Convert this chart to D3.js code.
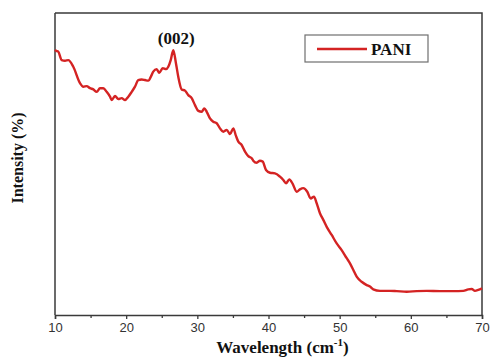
<!DOCTYPE html>
<html>
<head>
<meta charset="utf-8">
<script src="https://cdn.jsdelivr.net/npm/d3@7"></script>
<style>
  body { margin: 0; background: #fff; }
  svg { display: block; }
</style>
</head>
<body>
<svg id="chart" width="490" height="358"></svg>
<script>
// wavenumber positions
var wavelength = [10, 10.14, 10.46, 10.94, 11.41, 11.87, 12.57, 13.51, 13.98, 14.45, 14.92,
  15.38, 15.86, 16.32, 16.79, 17.26, 17.73, 17.97, 18.43, 18.89, 19.37, 19.84, 20.30,
  20.78, 21.24, 21.70, 22.18, 22.65, 23.11, 23.59, 23.81, 24.29, 24.65, 25.13, 25.60,
  25.92, 26.26, 26.62, 27.00, 27.32, 27.80, 28.27, 28.73, 29.21, 29.67, 30.14, 30.61,
  30.98, 31.32, 31.78, 32.24, 32.72, 33.18, 33.65, 34.13, 34.59, 35.05, 35.43, 35.76,
  36.23, 36.70, 37.16, 37.64, 37.86, 38.34, 38.80, 39.18, 39.65, 40.21, 40.91, 41.61,
  42.08, 42.46, 42.92, 43.40, 43.96, 44.42, 44.89, 45.45, 45.93, 46.39, 46.77, 47.23,
  47.70, 48.18, 48.88, 49.58, 50.28, 50.99, 51.45, 51.92, 52.39, 53.09, 53.80, 54.26,
  54.72, 55.67, 57.07, 58.01, 59.42, 60.82, 62.23, 64.10, 65.97, 67.37, 68.07, 68.55,
  69.01, 69.48, 70];
// intensity in arbitrary units (0..100 over the plot height)
var intensity = [87.8, 87.5, 87.2, 84.4, 84.2, 84.4, 82.2, 76.8, 75.6, 75.8, 75.1,
  74.7, 73.9, 75.1, 75.1, 73.9, 72.3, 71.2, 72.5, 71.5, 71.8, 71.2, 72.3,
  73.9, 75.6, 77.8, 78.0, 77.8, 77.6, 79.5, 80.6, 81.4, 80.2, 81.7, 81.4,
  82.2, 84.4, 87.7, 83.3, 78.9, 74.7, 74.3, 72.8, 71.8, 69.5, 67.6, 67.3,
  68.4, 67.3, 65.1, 64.0, 63.5, 61.8, 60.7, 61.3, 59.9, 61.8, 59.3, 57.4,
  56.3, 54.1, 52.6, 51.9, 51.1, 50.4, 51.1, 50.8, 48.0, 47.1, 46.9, 45.8,
  44.7, 43.6, 44.9, 43.4, 40.8, 41.6, 42.0, 40.8, 38.6, 39.2, 37.0, 33.7,
  31.5, 29.2, 26.5, 23.7, 21.5, 18.8, 17.1, 14.9, 12.7, 11.0, 9.9, 9.4,
  8.5, 8.0, 8.0, 7.9, 7.7, 7.9, 8.0, 7.9, 7.9, 8.0, 8.5, 8.6,
  8.0, 8.3, 8.8];
var xTicks = [10, 20, 30, 40, 50, 60, 70];
var minorTicks = [15, 25, 35, 45, 55, 65];
var seriesName = "PANI";
var peakLabel = "(002)";
var peakAt = 26.62;

var svg = d3.select("#chart");
var margin = {top: 13, right: 8, bottom: 43, left: 55};
var width = 490 - margin.left - margin.right;
var height = 358 - margin.top - margin.bottom;

var x = d3.scaleLinear().domain([10, 70]).range([0, width]);
var y = d3.scaleLinear().domain([0, 100]).range([height, 0]);

var g = svg.append("g")
    .attr("transform", "translate(" + margin.left + "," + margin.top + ")");

var axisColor = "#3a3a3a";
var serif = "'Liberation Serif', 'Times New Roman', serif";

// frame: top and right borders
g.append("path")
    .attr("d", "M0,0H" + width + "V" + height)
    .attr("fill", "none")
    .attr("stroke", axisColor)
    .attr("stroke-width", 1.5);

// left axis, no ticks
g.append("line")
    .attr("x1", 0).attr("x2", 0)
    .attr("y1", 0).attr("y2", height)
    .attr("stroke", axisColor)
    .attr("stroke-width", 1.5);

// bottom axis
var xAxis = g.append("g")
    .attr("transform", "translate(0," + height + ")")
    .call(d3.axisBottom(x).tickValues(xTicks).tickSize(4).tickPadding(4));
xAxis.select(".domain").attr("stroke", axisColor).attr("stroke-width", 1.5);
xAxis.selectAll(".tick line").attr("stroke", axisColor).attr("stroke-width", 1.3);
xAxis.selectAll("text")
    .attr("fill", "#333")
    .style("font-family", "'Liberation Sans', Arial, sans-serif")
    .style("font-size", "13px");

g.append("g")
    .attr("transform", "translate(0," + height + ")")
    .call(d3.axisBottom(x).tickValues(minorTicks).tickSize(3).tickFormat(""))
    .call(function(a) {
        a.select(".domain").remove();
        a.selectAll("line").attr("stroke", axisColor).attr("stroke-width", 1.3);
    });

// the curve
var data = wavelength.map(function(d, i) { return {x: d, y: intensity[i]}; });
var line = d3.line()
    .x(function(d) { return x(d.x); })
    .y(function(d) { return y(d.y); })
    .curve(d3.curveMonotoneX);

g.append("path")
    .datum(data)
    .attr("d", line)
    .attr("fill", "none")
    .attr("stroke", "#d42323")
    .attr("stroke-width", 2.4)
    .attr("stroke-linejoin", "round");

// peak label
g.append("text")
    .attr("x", x(peakAt) + 3)
    .attr("y", y(88) - 5)
    .attr("text-anchor", "middle")
    .style("font-family", serif)
    .style("font-weight", "bold")
    .style("font-size", "17px")
    .attr("fill", "#111")
    .text(peakLabel);

// legend
var lg = g.append("g").attr("transform", "translate(" + (305 - margin.left) + "," + (35 - margin.top) + ")");
lg.append("rect")
    .attr("width", 123).attr("height", 27)
    .attr("fill", "#fff")
    .attr("stroke", "#6f6f6f")
    .attr("stroke-width", 1.2);
lg.append("line")
    .attr("x1", 12).attr("x2", 62)
    .attr("y1", 14).attr("y2", 14)
    .attr("stroke", "#d42323")
    .attr("stroke-width", 2.4);
lg.append("text")
    .attr("x", 66).attr("y", 20)
    .style("font-family", serif)
    .style("font-weight", "bold")
    .style("font-size", "17px")
    .attr("fill", "#111")
    .text(seriesName);

// axis titles
var xt = svg.append("text")
    .attr("x", margin.left + width / 2 + 14)
    .attr("y", 353)
    .attr("text-anchor", "middle")
    .style("font-family", serif)
    .style("font-weight", "bold")
    .style("font-size", "17px")
    .attr("fill", "#111");
xt.append("tspan").text("Wavelength (cm");
xt.append("tspan").attr("dy", -7).style("font-size", "11px").text("-1");
xt.append("tspan").attr("dy", 7).text(")");

svg.append("text")
    .attr("transform", "translate(23,158) rotate(-90)")
    .attr("text-anchor", "middle")
    .style("font-family", serif)
    .style("font-weight", "bold")
    .style("font-size", "16px")
    .attr("fill", "#111")
    .text("Intensity (%)");
</script>
</body>
</html>
